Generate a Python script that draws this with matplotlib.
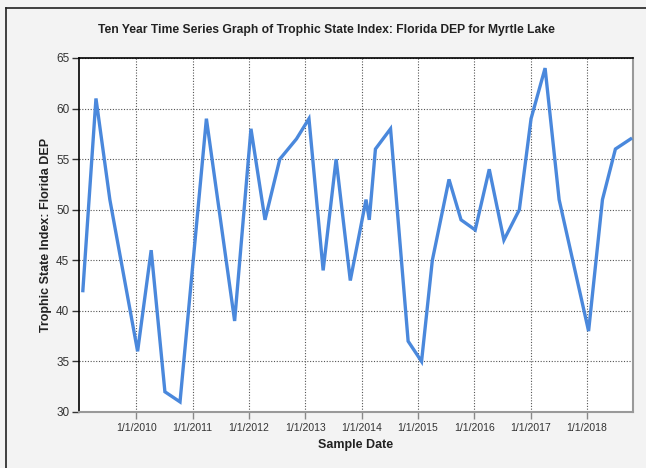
import pandas as pd
import matplotlib
matplotlib.use('Agg')
import matplotlib.pyplot as plt
import matplotlib.dates as mdates
from matplotlib.ticker import FuncFormatter
from matplotlib.lines import Line2D

plt.rcParams['font.family'] = ['Liberation Sans', 'DejaVu Sans']

# datos de muestreo (aprox. trimestral)
fechas = ['2009-01-20', '2009-04-15', '2009-07-14', '2010-01-10', '2010-04-08',
          '2010-07-06', '2010-10-12', '2011-04-01', '2011-10-01', '2012-01-15',
          '2012-04-15', '2012-07-20', '2012-11-05', '2013-01-25', '2013-04-27',
          '2013-07-20', '2013-10-20', '2014-01-30', '2014-02-20', '2014-04-01',
          '2014-07-08', '2014-10-30', '2015-01-25', '2015-04-05', '2015-07-22',
          '2015-10-08', '2016-01-08', '2016-04-08', '2016-07-12', '2016-10-20',
          '2017-01-04', '2017-04-05', '2017-07-05', '2018-01-12', '2018-04-12',
          '2018-07-05', '2018-10-12']
tsi = [42, 61, 51, 36, 46, 32, 31, 59, 39, 58,
       49, 55, 57, 59, 44, 55, 43, 51, 49, 56,
       58, 37, 35, 45, 53, 49, 48, 54, 47, 50,
       59, 64, 51, 38, 51, 56, 57]
anios_ticks = [2010, 2011, 2012, 2013, 2014, 2015, 2016, 2017, 2018]
y_ticks = [30, 35, 40, 45, 50, 55, 60, 65]

x = pd.to_datetime(fechas)

fig = plt.figure(figsize=(6.46, 4.68), dpi=100, facecolor='#f3f3f3')
ax = fig.add_axes([79 / 646, 1 - 412 / 468, 554 / 646, 354 / 468])
ax.set_facecolor('white')

ax.plot(x, tsi, color='#4a88dc', linewidth=2.4, solid_joinstyle='miter', zorder=3)

ax.set_xlim(pd.Timestamp('2008-12-26'), pd.Timestamp('2018-10-27'))
ax.set_ylim(30, 65)
ax.set_xticks(pd.to_datetime([f'{a}-01-01' for a in anios_ticks]))
ax.xaxis.set_major_formatter(FuncFormatter(
    lambda v, p: (lambda d: f'{d.month}/{d.day}/{d.year}')(mdates.num2date(v))))
ax.set_yticks(y_ticks)

ax.grid(True, color='#555555', linestyle=(0, (1, 1.5)), linewidth=0.8)
ax.tick_params(axis='y', labelsize=8.5, colors='#333333', length=5, width=1, pad=2)
ax.tick_params(axis='x', labelsize=7.5, colors='#888888', labelcolor='#333333',
               length=5, width=1, pad=3)

for lado in ['left', 'top']:
    ax.spines[lado].set_color('black')
    ax.spines[lado].set_linewidth(1.2)
for lado in ['right', 'bottom']:
    ax.spines[lado].set_color('#999999')
    ax.spines[lado].set_linewidth(1.5)

ax.set_xlabel('Sample Date', fontsize=9, fontweight='bold', color='#222222', labelpad=4)
ax.set_ylabel('Trophic State Index: Florida DEP', fontsize=9, fontweight='bold',
              color='#222222', labelpad=3)
fig.text(0.505, 1 - 30 / 468, 'Ten Year Time Series Graph of Trophic State Index: Florida DEP for Myrtle Lake',
         ha='center', va='center', fontsize=8.7, fontweight='bold', color='#222222')

# marco exterior
fig.add_artist(Line2D([6 / 646, 6 / 646], [0, 1 - 8 / 468], transform=fig.transFigure,
                      color='#222222', linewidth=1.2))
fig.add_artist(Line2D([6 / 646, 1], [1 - 8 / 468, 1 - 8 / 468], transform=fig.transFigure,
                      color='#222222', linewidth=1.2))

fig.savefig('out.png', dpi=100, facecolor=fig.get_facecolor())
